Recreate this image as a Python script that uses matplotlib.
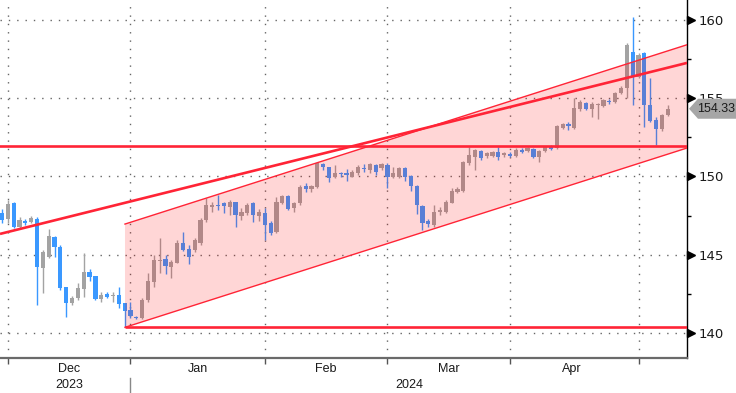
import matplotlib
matplotlib.use('Agg')
import matplotlib.pyplot as plt
from matplotlib.patches import Polygon, Rectangle

# ---------------- data ----------------
opens = [147.67, 147.28, 148.31, 146.77, 147.16, 147.09, 147.30, 144.15, 144.86, 146.13,
         145.50, 142.94, 141.92, 142.24, 142.81, 143.90, 143.64, 142.17, 142.49, 142.37,
         142.43, 141.92, 141.47, 141.02, 140.96, 142.11, 143.26, 144.60, 144.73, 144.22,
         144.47, 145.75, 145.37, 145.30, 145.75, 147.22, 148.05, 148.20, 148.31, 148.05,
         148.37, 147.48, 147.67, 148.31, 147.48, 147.67, 147.03, 146.45, 148.31, 148.75,
         147.99, 148.31, 149.39, 149.20, 149.33, 150.80, 150.61, 149.97, 150.25, 150.22,
         149.97, 150.22, 150.54, 150.42, 150.73, 150.54, 150.73, 149.97, 149.97, 150.54,
         150.03, 149.39, 148.12, 147.16, 146.90, 147.73, 147.73, 148.31, 149.01, 149.07,
         150.86, 151.25, 151.63, 151.31, 151.31, 151.57, 151.37, 151.44, 151.31, 151.69,
         151.63, 151.76, 151.25, 151.63, 151.88, 151.82, 153.10, 153.35, 153.10, 154.31,
         154.70, 154.31, 154.60, 154.50, 154.80, 154.76, 155.34, 155.65, 157.96, 156.36,
         157.89, 154.57, 153.61, 153.04, 153.93]
highs = [147.92, 148.50, 148.37, 147.40, 147.28, 147.50, 147.40, 145.30, 146.65, 146.20,
         145.60, 142.94, 142.37, 143.20, 145.11, 144.10, 143.64, 142.62, 142.62, 142.62,
         142.94, 141.92, 141.98, 141.09, 142.24, 143.83, 144.98, 146.07, 144.98, 144.66,
         145.94, 146.45, 145.60, 146.07, 147.35, 148.63, 148.37, 148.82, 148.37, 148.50,
         148.37, 147.99, 148.31, 148.37, 147.92, 147.99, 147.16, 148.69, 148.82, 148.82,
         148.37, 149.46, 149.58, 149.46, 150.93, 150.86, 150.61, 150.73, 150.29, 150.48,
         150.42, 150.73, 150.80, 150.86, 150.80, 150.86, 150.86, 150.61, 150.61, 150.61,
         150.10, 149.46, 148.18, 147.28, 148.18, 148.05, 148.50, 149.27, 149.33, 150.99,
         151.88, 151.76, 151.69, 151.57, 151.63, 151.88, 151.57, 151.57, 151.82, 151.82,
         151.88, 151.82, 151.69, 151.88, 152.01, 153.29, 153.42, 153.48, 155.02, 154.89,
         154.76, 154.76, 154.70, 154.95, 154.95, 155.40, 155.78, 158.53, 160.19, 157.89,
         157.96, 156.29, 153.80, 154.00, 154.57]
lows = [147.03, 147.03, 146.70, 146.65, 146.90, 147.03, 141.80, 142.56, 144.80, 144.86,
        142.75, 141.02, 141.79, 142.11, 142.30, 143.32, 142.11, 141.98, 142.24, 141.98,
        141.60, 140.38, 140.96, 140.90, 140.90, 141.98, 142.94, 143.83, 143.77, 143.51,
        144.47, 145.24, 144.40, 145.18, 145.60, 147.09, 147.73, 147.86, 147.67, 147.54,
        146.77, 147.22, 147.54, 147.09, 147.16, 145.94, 146.26, 146.39, 148.24, 147.86,
        147.73, 148.18, 149.01, 149.01, 149.27, 150.42, 149.65, 149.90, 149.97, 149.71,
        149.97, 150.10, 150.29, 150.22, 150.10, 150.42, 149.27, 149.90, 149.90, 149.71,
        149.07, 147.60, 146.58, 146.77, 146.77, 147.54, 147.67, 148.31, 148.95, 149.01,
        150.73, 150.42, 151.05, 151.18, 151.25, 151.05, 151.25, 151.25, 151.25, 151.50,
        151.57, 151.18, 150.93, 151.57, 151.69, 151.76, 153.04, 152.97, 153.04, 154.18,
        154.25, 153.80, 153.67, 154.44, 154.63, 154.70, 155.27, 155.02, 154.57, 156.29,
        153.16, 153.48, 152.01, 152.90, 153.87]
closes = [147.22, 148.24, 146.77, 147.22, 147.03, 147.35, 144.20, 145.18, 146.20, 145.50,
          142.88, 141.92, 142.24, 142.88, 143.90, 143.58, 142.17, 142.43, 142.30, 142.43,
          141.85, 141.41, 141.09, 140.96, 142.11, 143.32, 144.66, 144.66, 144.28, 144.54,
          145.75, 145.30, 144.86, 145.94, 147.22, 148.18, 148.18, 148.10, 148.12, 148.37,
          147.54, 147.73, 148.18, 147.54, 147.73, 146.90, 146.39, 148.37, 148.75, 147.92,
          148.31, 149.33, 149.20, 149.39, 150.86, 150.61, 149.90, 150.22, 150.18, 150.10,
          150.29, 150.61, 150.48, 150.80, 150.29, 150.80, 149.97, 150.22, 150.54, 149.97,
          149.39, 148.18, 147.03, 146.96, 147.73, 147.86, 148.37, 149.07, 149.20, 150.93,
          151.37, 151.69, 151.18, 151.50, 151.57, 151.25, 151.50, 151.31, 151.69, 151.57,
          151.82, 151.25, 151.63, 151.88, 151.76, 153.23, 153.35, 153.23, 154.38, 154.76,
          154.31, 154.63, 154.65, 154.89, 154.76, 155.34, 155.65, 158.40, 156.36, 157.76,
          154.57, 153.55, 153.04, 153.93, 154.33]

month_ticks = [1, 22, 45, 66, 87, 109]
month_labels = ['Dec', 'Jan', 'Feb', 'Mar', 'Apr']
month_label_pos = [11.5, 33.5, 55.5, 76.5, 97.5]
year_labels = ['2023', '2024']
year_label_pos = [11.5, 69.8]
year_sep = 22

price_ticks = [140, 145, 150, 155, 160]
price_minor = [142.5, 147.5, 152.5, 157.5]
last_price = 154.33

support_level = 151.95
base_level = 140.35
channel_x = [21.06, 117.3]
channel_low = [140.36, 151.82]
channel_high = [146.96, 158.42]
trend_x = [-0.34, 117.3]
trend_y = [146.33, 157.26]

# ---------------- figure ----------------
W, H = 736, 393
fig = plt.figure(figsize=(W / 100, H / 100), dpi=100)
ax = fig.add_axes([0, 35 / H, 687 / W, 358 / H])
plt.rcParams['font.family'] = ['Liberation Sans', 'DejaVu Sans']

xmin, xmax = -0.34, 117.3
ymin, ymax = 138.40, 161.28
ax.set_xlim(xmin, xmax)
ax.set_ylim(ymin, ymax)

UP = '#a3a3a3'
DOWN = '#3a98ff'
RED = '#ff2436'
bw = 0.72
for i, (o, h, l, c) in enumerate(zip(opens, highs, lows, closes)):
    col = UP if c >= o else DOWN
    ax.vlines(i, l, h, color=col, lw=1.0, zorder=3)
    lo = min(o, c)
    ht = max(abs(c - o), 0.05)
    ax.add_patch(Rectangle((i - bw / 2, lo), bw, ht, facecolor=col,
                           edgecolor='none', zorder=3))

# channel fill
poly = Polygon([(channel_x[0], channel_low[0]), (channel_x[1], channel_low[1]),
                (channel_x[1], channel_high[1]), (channel_x[0], channel_high[0])],
               closed=True, facecolor='#ff0000', alpha=0.16, edgecolor='none', zorder=4)
ax.add_patch(poly)
ax.plot(channel_x, channel_low, color=RED, lw=1.0, zorder=5)
ax.plot(channel_x, channel_high, color=RED, lw=1.0, zorder=5)

# thick lines
ax.plot(trend_x, trend_y, color=RED, lw=1.9, zorder=5, solid_capstyle='butt')
ax.axhline(support_level, color=RED, lw=1.9, zorder=5)
ax.plot([channel_x[0], xmax], [base_level, base_level], color=RED, lw=1.9, zorder=5,
        solid_capstyle='butt')

# grid
ax.set_xticks(month_ticks)
ax.set_yticks(price_ticks)
ax.set_yticks(price_minor, minor=True)
ax.grid(True, which='major', color='#666666', lw=1.0, linestyle=(0, (1, 5)))
ax.set_axisbelow(True)

# spines
for s in ['left', 'top']:
    ax.spines[s].set_visible(False)
ax.spines['right'].set_color('black')
ax.spines['right'].set_linewidth(1.0)
ax.spines['bottom'].set_color('#6a6a6a')
ax.spines['bottom'].set_linewidth(1.6)

ax.tick_params(axis='x', which='major', direction='out', length=4, width=1,
               color='#555555', labelbottom=False)
ax.yaxis.tick_right()
ax.tick_params(axis='y', which='major', length=0, pad=8, labelsize=9.5, labelcolor='#1a1a1a')
ax.tick_params(axis='y', which='minor', length=3, width=1, color='black', direction='out')
ax.set_yticklabels([str(p) for p in price_ticks])

# triangle markers for major y ticks
ytr = ax.get_yaxis_transform()
ax.plot([1 + 3.5 / 687] * len(price_ticks), price_ticks, linestyle='none', marker='>',
        ms=6, color='black', transform=ytr, clip_on=False, zorder=6)

# month / year labels
xtr = ax.get_xaxis_transform()
for p, lab in zip(month_label_pos, month_labels):
    ax.text(p, -11 / 358, lab, transform=xtr, ha='center', va='center',
            fontsize=9, color='#1a1a1a')
for p, lab in zip(year_label_pos, year_labels):
    ax.text(p, -27 / 358, lab, transform=xtr, ha='center', va='center',
            fontsize=9, color='#1a1a1a')
ax.plot([year_sep, year_sep], [-20 / 358, -35 / 358], transform=xtr, color='#888888',
        lw=1, clip_on=False)

# last price tag
hh = 10 / 15.65
tag = Polygon([(1 + 2 / 687, last_price), (1 + 11 / 687, last_price + hh),
               (1 + 49 / 687, last_price + hh), (1 + 49 / 687, last_price - hh),
               (1 + 11 / 687, last_price - hh)], closed=True, transform=ytr,
              facecolor='#a6a6a6', edgecolor='none', clip_on=False, zorder=7)
ax.add_patch(tag)
ax.text(1 + 29 / 687, last_price, f'{last_price:.2f}', transform=ytr, ha='center',
        va='center', fontsize=9, color='#1a1a1a', zorder=8, clip_on=False)

fig.savefig('out.png', dpi=100)
